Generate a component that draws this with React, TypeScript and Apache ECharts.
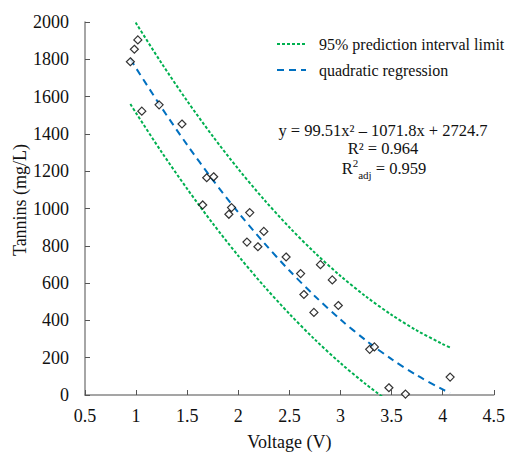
import React, { useEffect, useRef } from "react";
import * as echarts from "echarts";

const voltage = [1.017, 0.983, 0.944, 1.056, 1.225, 1.449, 1.691, 1.759, 1.652, 1.934, 1.908, 2.112, 2.25, 2.085, 2.192, 2.468, 2.804, 2.61, 2.92, 2.642, 2.979, 2.74, 3.286, 3.332, 3.474, 3.636, 4.073];
const tannins = [1904, 1854, 1787, 1522, 1556, 1453, 1165, 1170, 1019, 1005, 969, 978, 877, 820, 795, 740, 699, 651, 617, 539, 480, 443, 245, 258, 39, 5, 96];

const fitX = [0.944, 1.0, 1.25, 1.5, 1.75, 2.0, 2.25, 2.5, 2.75, 3.0, 3.25, 3.5, 3.75, 4.0, 4.073];
const fitY = [1801.6, 1752.4, 1540.4, 1340.9, 1153.8, 979.1, 817.0, 667.2, 529.8, 404.9, 292.5, 192.4, 104.8, 29.7, 10.1];
const upperY = [2043.2, 1993.3, 1778.5, 1576.6, 1387.7, 1211.8, 1049.1, 899.2, 762.4, 638.6, 527.8, 429.9, 345.1, 273.3, 254.7];
const lowerX = [0.944, 1.0, 1.25, 1.5, 1.75, 2.0, 2.25, 2.5, 2.75, 3.0, 3.25, 3.5];
const lowerY = [1560.0, 1511.5, 1302.3, 1105.2, 919.9, 746.4, 584.9, 435.2, 297.2, 171.2, 57.2, -45.1];

const FONT = "Liberation Serif";
const GREEN = "#00b050";
const BLUE = "#0070c0";
const PI_NAME = "95% prediction interval limit";
const FIT_NAME = "quadratic regression";

export default function App() {
  const ref = useRef<HTMLDivElement>(null);
  useEffect(() => {
    if (!ref.current) return;
    const chart = echarts.init(ref.current, undefined, { renderer: "svg" });
    const zip = (xs: number[], ys: number[]) => xs.map((x, i) => [x, ys[i]]);
    const greenStyle = { color: GREEN, width: 2, type: [3, 2] as any };
    const txt = (text: string, x: number, y: number, align: string, size = 16) => ({
      type: "text",
      x,
      y,
      style: { text, fontFamily: FONT, fontSize: size, fill: "#111", textAlign: align, textVerticalAlign: "middle" },
    });
    chart.setOption({
      animation: false,
      textStyle: { fontFamily: FONT },
      grid: { left: 85, right: 11, top: 22, bottom: 58, containLabel: false },
      xAxis: {
        type: "value",
        min: 0.5,
        max: 4.5,
        interval: 0.5,
        name: "Voltage (V)",
        nameLocation: "middle",
        nameGap: 38,
        nameTextStyle: { fontFamily: FONT, fontSize: 18, color: "#111" },
        axisLine: { show: true, lineStyle: { color: "#888", width: 1.5 } },
        axisTick: { show: true, inside: true, length: 5, lineStyle: { color: "#555" } },
        axisLabel: {
          fontFamily: FONT,
          fontSize: 18,
          color: "#111",
          margin: 12,
          formatter: (v: number) => String(v),
        },
        splitLine: { show: false },
      },
      yAxis: {
        type: "value",
        min: 0,
        max: 2000,
        interval: 200,
        axisLine: { show: true, lineStyle: { color: "#888", width: 1.5 } },
        axisTick: { show: true, inside: true, length: 5, lineStyle: { color: "#555" } },
        axisLabel: {
          fontFamily: FONT,
          fontSize: 18,
          color: "#111",
          margin: 16,
          formatter: (v: number) => String(v),
        },
        splitLine: { show: false },
      },
      series: [
        {
          name: PI_NAME,
          type: "line",
          data: zip(fitX, upperY),
          smooth: 0.3,
          symbol: "none",
          clip: true,
          lineStyle: greenStyle,
        },
        {
          name: PI_NAME,
          type: "line",
          data: zip(lowerX, lowerY),
          smooth: 0.3,
          symbol: "none",
          clip: true,
          lineStyle: greenStyle,
        },
        {
          name: FIT_NAME,
          type: "line",
          data: zip(fitX, fitY),
          smooth: 0.3,
          symbol: "none",
          clip: true,
          lineStyle: { color: BLUE, width: 2, type: [7, 5] as any },
        },
        {
          name: "data",
          type: "scatter",
          data: zip(voltage, tannins),
          symbol: "diamond",
          symbolSize: 8,
          clip: false,
          itemStyle: { color: "#fff", borderColor: "#000", borderWidth: 1.2 },
          z: 5,
        },
      ],
      graphic: [
        {
          type: "line",
          shape: { x1: 277, y1: 44, x2: 306, y2: 44 },
          style: { stroke: GREEN, lineWidth: 2, lineDash: [3, 2] },
        },
        {
          type: "line",
          shape: { x1: 277, y1: 70, x2: 306, y2: 70 },
          style: { stroke: BLUE, lineWidth: 2, lineDash: [7, 5] },
        },
        txt(PI_NAME, 319, 44, "left"),
        txt(FIT_NAME, 319, 70, "left"),
        {
          type: "text",
          x: 20,
          y: 200,
          rotation: Math.PI / 2,
          style: {
            text: "Tannins (mg/L)",
            fontFamily: FONT,
            fontSize: 18,
            fill: "#111",
            textAlign: "center",
            textVerticalAlign: "middle",
          },
        },
        txt("y = 99.51x² – 1071.8x + 2724.7", 383, 130, "center", 16.5),
        txt("R² = 0.964", 383, 148, "center", 16.5),
        txt("R", 341.7, 168, "left", 16.5),
        txt("2", 352.7, 162.8, "left", 11),
        txt("adj", 358.2, 174.5, "left", 11),
        txt(" = 0.959", 371.6, 168, "left", 16.5),
      ],
    });
    return () => chart.dispose();
  }, []);
  return (
    <div
      ref={ref}
      style={{ position: "fixed", left: 0, top: 0, width: 508, height: 456, background: "#fff" }}
    />
  );
}
